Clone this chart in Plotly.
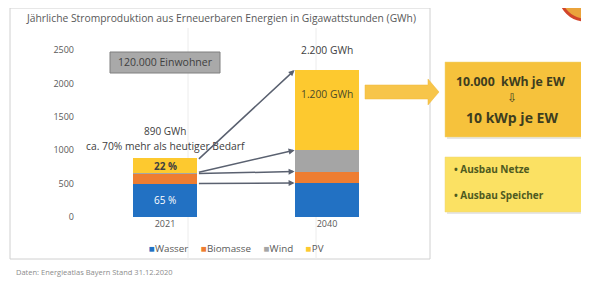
import plotly.graph_objects as go

# ---- data ----
years = ["2021", "2040"]
series_names = ["Wasser", "Biomasse", "Wind", "PV"]
wasser = [500, 510]
biomasse = [150, 170]
wind = [15, 320]
pv = [225, 1200]
totals_label = ["890 GWh", "2.200 GWh"]
y_ticks = [0, 500, 1000, 1500, 2000, 2500]

# page has an 8px body margin -> figure placed at (8, 8)
OFF = 8
W, H = 589 - OFF, 282 - OFF
def px(x):
    return (x - OFF) / W
def py(y):
    return 1 - (y - OFF) / H

colors = {"Wasser": "#2271c3", "Biomasse": "#ee7d31", "Wind": "#a5a5a5", "PV": "#fdc92f"}
xpos = [0, 1]

fig = go.Figure()
for name, vals in zip(series_names, [wasser, biomasse, wind, pv]):
    fig.add_trace(go.Bar(x=xpos, y=vals, name=name, marker_color=colors[name],
                         marker_line_width=0, width=0.4, showlegend=False))

# screen px: x=0 at 165, x=1 at 327 ; y=0 at 217, 2500 at 50
x_left, x_right = 84, 400
unit = 162
xr = [-(165 - x_left) / unit, (x_right - 165) / unit]
y_bot, y_top = 217, 40
yunit = (217 - 50) / 2500
yr = [0, (y_bot - y_top) / yunit]

fig.update_layout(
    width=W, height=H, barmode="stack",
    margin=dict(l=0, r=0, t=0, b=0, autoexpand=False),
    paper_bgcolor="white", plot_bgcolor="white",
    font=dict(family="Open Sans, sans-serif", color="#595959", size=9),
    xaxis=dict(domain=[px(x_left), px(x_right)], range=xr, tickvals=xpos, ticktext=years,
               showgrid=False, zeroline=False, showline=False, ticks="",
               tickfont=dict(size=9, color="#595959")),
    yaxis=dict(domain=[py(y_bot), py(y_top)], range=yr, tickvals=y_ticks, showgrid=False,
               zeroline=False, showline=False, ticks="", tickfont=dict(size=9, color="#595959"),
               ticklabelstandoff=9),
    showlegend=False,
)

shapes = []
# chart frame
shapes.append(dict(type="rect", xref="paper", yref="paper", x0=px(10), x1=px(430), y0=py(259), y1=py(8),
                   line=dict(color="#d0d0d0", width=1), fillcolor="rgba(0,0,0,0)", layer="below"))
# faint ghost vertical lines
for gx in [188, 316]:
    shapes.append(dict(type="line", xref="paper", yref="paper", x0=px(gx), x1=px(gx), y0=py(259), y1=py(28),
                       line=dict(color="#ececec", width=1), layer="below"))
# 120.000 Einwohner box
shapes.append(dict(type="rect", xref="paper", yref="paper", x0=px(110), x1=px(220), y0=py(73), y1=py(52),
                   line=dict(color="#7f7f7f", width=1), fillcolor="#a9a9a9"))
# big yellow block arrow
pts = [(365, 85), (428, 85), (428, 79), (439, 92), (428, 105), (428, 99), (365, 99)]
path = "M " + " L ".join(f"{px(a):.5f},{py(b):.5f}" for a, b in pts) + " Z"
shapes.append(dict(type="path", xref="paper", yref="paper", path=path,
                   fillcolor="#f7c54a", line=dict(color="#f0b93a", width=0.5)))
# box shadows + boxes
for (x0, y0, x1, y1, fill) in [(445, 62, 584, 137, "#f6c23c"), (445, 157, 584, 212, "#fbe163")]:
    shapes.append(dict(type="rect", xref="paper", yref="paper", x0=px(x0 + 2), x1=px(x1 + 2),
                       y0=py(y1 + 2), y1=py(y0 + 2), line=dict(width=0), fillcolor="#e6e6e6"))
    shapes.append(dict(type="rect", xref="paper", yref="paper", x0=px(x0), x1=px(x1),
                       y0=py(y1), y1=py(y0), line=dict(color="#efd57a", width=0.5), fillcolor=fill))
# partial logo top right
shapes.append(dict(type="circle", xref="paper", yref="paper", x0=px(560), x1=px(610), y0=py(20), y1=py(-30),
                   fillcolor="#eaa33b", line=dict(color="#d2452a", width=3)))
fig.update_layout(shapes=shapes)

ann = []
def text(x, y, t, size=9, color="#404040", xanchor="center", bold=False):
    if bold:
        t = f"<b>{t}</b>"
    ann.append(dict(x=px(x), y=py(y), xref="paper", yref="paper", text=t, showarrow=False,
                    xanchor=xanchor, yanchor="middle", font=dict(size=size, color=color)))

text(24, 18, "Jährliche Stromproduktion aus Erneuerbaren Energien in Gigawattstunden (GWh)", size=10.3,
     color="#595959", xanchor="left")
text(165, 62.5, "120.000 Einwohner", size=10.5, color="#404040")
text(165, 131, totals_label[0], size=10, color="#404040")
text(165, 146, "ca. 70% mehr als heutiger Bedarf", size=10.3, color="#404040")
text(327, 50, totals_label[1], size=10.3, color="#404040")
text(327, 94, "1.200 GWh", size=10.3, color="#4a4a2a")
text(165, 166, "22 %", size=10, color="#404040", bold=True)
text(165, 200, "65 %", size=10, color="#ffffff")
text(510, 81, "10.000  kWh je EW", size=12.3, color="#3d3d1f", bold=True)
text(512, 97, "⇩", size=12, color="#3d3d1f")
text(512, 117, "10 kWp je EW", size=14, color="#3d3d1f", bold=True)
text(452, 169, "• Ausbau Netze", size=10, color="#4e5a1f", xanchor="left", bold=True)
text(452, 195, "• Ausbau Speicher", size=10, color="#4e5a1f", xanchor="left", bold=True)
text(14, 272, "Daten: Energieatlas Bayern Stand 31.12.2020", size=7.5, color="#8c8c8c", xanchor="left")

# legend as a compact row of coloured squares + names
legend_txt = "     ".join(f"<span style='color:{colors[n]}'>■</span>{n}" for n in series_names)
text(236, 248, legend_txt, size=9.8, color="#595959")

# connecting arrows from 2021 segment tops to 2040 segment tops
def cum(vals_list, i):
    out, s = [], 0
    for v in vals_list:
        s += v[i]
        out.append(s)
    return out
series = [wasser, biomasse, wind, pv]
c21 = cum(series, 0)
c40 = cum(series, 1)
starts = [c21[0], c21[1], c21[2], c21[3] - 40]
for s, e in zip(starts, c40):
    ann.append(dict(x=0.8, y=e, xref="x", yref="y", ax=0.2, ay=s, axref="x", ayref="y",
                    showarrow=True, arrowhead=2, arrowsize=0.8, arrowwidth=1.5, arrowcolor="#5a6170",
                    text=""))
fig.update_layout(annotations=ann)

fig.write_html("out.html")
